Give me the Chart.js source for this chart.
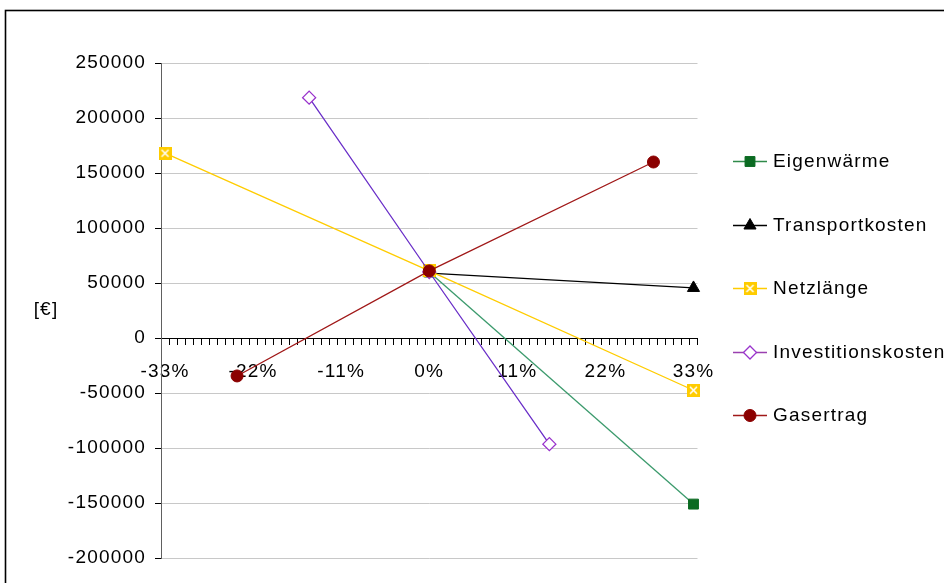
<!DOCTYPE html>
<html>
<head>
<meta charset="utf-8">
<script src="https://cdn.jsdelivr.net/npm/chart.js@4/dist/chart.umd.min.js"></script>
<style>
  html, body { margin: 0; padding: 0; background: #fff; }
  #wrap { position: relative; width: 944px; height: 583px; }
</style>
</head>
<body>
<div id="wrap"><canvas id="c" width="944" height="583"></canvas></div>
<script>
// Category axis: percentage change, one category per percent
const percentSteps = [];
for (let p = -33; p <= 33; p++) percentSteps.push(p);
const categories = percentSteps.map(p => p + '%');
const labelledSteps = [-33, -22, -11, 0, 11, 22, 33];

// Value axis
const yMin = -200000;
const yMax = 250000;
const yStep = 50000;
const yTitle = '[€]';

// Series (category, value in €)
const eigenwaermeX = ['0%', '33%'];
const eigenwaermeY = [60000, -151000];

const transportX = ['0%', '33%'];
const transportY = [59000, 45500];

const netzX = ['-33%', '0%', '33%'];
const netzY = [168000, 61000, -47500];

const investX = ['-15%', '0%', '15%'];
const investY = [218500, 60000, -96500];

const gasX = ['-24%', '0%', '28%'];
const gasY = [-34500, 61000, 160000];

const seriesNames = ['Eigenwärme', 'Transportkosten', 'Netzlänge', 'Investitionskosten', 'Gasertrag'];

const FONT = 'Liberation Sans, Arial, sans-serif';
const FONT_SIZE = 19;
const SPACING = '1.2px';

function pts(xs, ys) { return xs.map((x, i) => ({ x: x, y: ys[i] })); }

// Yellow square marker with white cross
function crossSquare() {
  const s = 13;
  const cv = document.createElement('canvas');
  cv.width = s; cv.height = s;
  const g = cv.getContext('2d');
  g.fillStyle = '#ffcc00';
  g.fillRect(0, 0, s, s);
  g.strokeStyle = '#ffffff';
  g.lineWidth = 1.5;
  g.beginPath();
  g.moveTo(3, 3); g.lineTo(s - 3, s - 3);
  g.moveTo(s - 3, 3); g.lineTo(3, s - 3);
  g.stroke();
  return cv;
}
const crossMarker = crossSquare();

const styles = [
  { line: '#3b9a6c', legendLine: '#2f8a4a', pointStyle: 'rect', radius: 7, fill: '#0b6b22', stroke: '#0b6b22', bw: 1 },
  { line: '#000000', legendLine: '#000000', pointStyle: 'triangle', radius: 7, fill: '#000000', stroke: '#000000', bw: 1 },
  { line: '#ffcc00', legendLine: '#ffcc00', pointStyle: crossMarker, radius: 7, fill: '#ffcc00', stroke: '#ffcc00', bw: 0 },
  { line: '#6a2fc8', legendLine: '#9a40b0', pointStyle: 'rectRot', radius: 6.5, fill: '#ffffff', stroke: '#9933cc', bw: 1.3 },
  { line: '#a01818', legendLine: '#a01818', pointStyle: 'circle', radius: 6, fill: '#8b0000', stroke: '#8b0000', bw: 1 }
];

const seriesData = [
  pts(eigenwaermeX, eigenwaermeY),
  pts(transportX, transportY),
  pts(netzX, netzY),
  pts(investX, investY),
  pts(gasX, gasY)
];

const datasets = seriesNames.map((name, i) => ({
  label: name,
  data: seriesData[i],
  borderColor: styles[i].line,
  borderWidth: 1.3,
  pointStyle: styles[i].pointStyle,
  pointRadius: styles[i].radius,
  pointBackgroundColor: styles[i].fill,
  pointBorderColor: styles[i].stroke,
  pointBorderWidth: styles[i].bw,
  tension: 0,
  fill: false,
  order: seriesNames.length - i
}));

function setSpacing(chart) {
  try { chart.ctx.letterSpacing = SPACING; } catch (e) {}
}

const decorations = {
  id: 'decorations',
  beforeUpdate(chart) { setSpacing(chart); },
  beforeLayout(chart) { setSpacing(chart); },
  resize(chart) { setSpacing(chart); },
  beforeDraw(chart) {
    setSpacing(chart);
    const ctx = chart.ctx;
    ctx.save();
    ctx.fillStyle = '#ffffff';
    ctx.fillRect(0, 0, chart.width, chart.height);
    ctx.strokeStyle = '#000000';
    ctx.lineWidth = 1.6;
    ctx.strokeRect(5.5, 10.5, 1200, 1200);
    ctx.restore();
  },
  afterDraw(chart) {
    const ctx = chart.ctx;
    ctx.save();
    ctx.letterSpacing = SPACING;
    ctx.font = FONT_SIZE + 'px ' + FONT;
    ctx.fillStyle = '#000000';
    ctx.textBaseline = 'middle';
    // value axis title
    ctx.textAlign = 'center';
    ctx.fillText(yTitle, 46, 310);
    // legend
    ctx.textAlign = 'left';
    const y0 = 161, dy = 63.5;
    seriesNames.forEach((name, i) => {
      const y = Math.round(y0 + i * dy) + 0.5;
      const st = styles[i];
      ctx.strokeStyle = st.legendLine;
      ctx.lineWidth = 1.3;
      ctx.beginPath();
      ctx.moveTo(733, y);
      ctx.lineTo(767, y);
      ctx.stroke();
      ctx.fillStyle = st.fill;
      ctx.strokeStyle = st.stroke;
      ctx.lineWidth = st.bw;
      Chart.helpers.drawPoint(ctx, { pointStyle: st.pointStyle, radius: st.radius, borderWidth: st.bw, rotation: 0 }, 750, y);
      ctx.fillStyle = '#000000';
      ctx.fillText(name, 773, y);
    });
    ctx.restore();
  }
};

new Chart(document.getElementById('c'), {
  type: 'line',
  data: { labels: categories, datasets: datasets },
  plugins: [decorations],
  options: {
    responsive: false,
    animation: false,
    events: [],
    layout: { padding: { left: 0, right: 246.5, top: 63, bottom: 25 } },
    plugins: { legend: { display: false }, tooltip: { enabled: false } },
    scales: {
      x: {
        type: 'category',
        labels: categories,
        offset: true,
        position: { y: 0 },
        grid: { offset: true, drawOnChartArea: false, drawTicks: true, tickLength: 6, color: '#000000', tickColor: '#000000' },
        border: { color: '#000000', width: 1 },
        ticks: {
          autoSkip: false, maxRotation: 0, minRotation: 0, padding: 16, color: '#000000',
          font: { family: FONT, size: FONT_SIZE },
          callback: function (v, i) {
            return labelledSteps.includes(percentSteps[i]) ? categories[i] : '';
          }
        }
      },
      y: {
        min: yMin, max: yMax,
        position: 'left',
        afterFit: s => { s.width = 161; },
        grid: {
          color: c => (c.tick && c.tick.value === 0) ? '#000000' : '#c8c8c8',
          tickColor: '#000000', tickLength: 6, lineWidth: 1
        },
        border: { color: '#606060', width: 1 },
        ticks: {
          stepSize: yStep, padding: 9, color: '#000000',
          font: { family: FONT, size: FONT_SIZE },
          callback: v => String(v)
        }
      }
    }
  }
});
</script>
</body>
</html>
